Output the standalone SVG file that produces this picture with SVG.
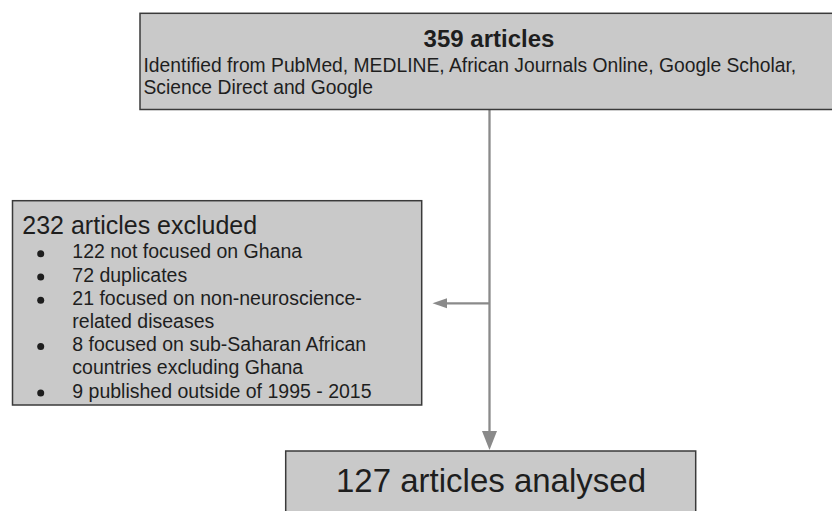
<svg xmlns="http://www.w3.org/2000/svg" width="832" height="511" viewBox="0 0 832 511">
<style>
.box{fill:#c9c9c9;stroke:#3a3a3a;stroke-width:1.5}
text{font-family:"Liberation Sans",Arial,sans-serif;fill:#1e1e1e}
.conn{stroke:#8a8a8a;stroke-width:2.3;fill:none}
.head{fill:#8a8a8a}
.b{fill:#1e1e1e}
</style>
<rect width="832" height="511" fill="#ffffff"/>
<g id="connectors">
<line class="conn" x1="489.5" y1="110" x2="489.5" y2="433"/>
<polygon class="head" points="482,431 497,431 489.5,450"/>
<line class="conn" x1="446" y1="303.3" x2="489.5" y2="303.3"/>
<polygon class="head" points="432.5,303.3 447,298.3 447,308.3"/>
</g>
<g id="node-identified">
<rect class="box" x="140" y="13.3" width="693" height="96.2"/>
<text x="489" y="46.5" font-size="24" font-weight="bold" text-anchor="middle">359 articles</text>
<text x="143.5" y="72.3" font-size="19.3">Identified from PubMed, MEDLINE, African Journals Online, Google Scholar,</text>
<text x="143.5" y="94.3" font-size="19.3">Science Direct and Google</text>
</g>
<g id="node-excluded">
<rect class="box" x="12.5" y="200.7" width="409.2" height="204.3"/>
<text x="22.3" y="234.3" font-size="25">232 articles excluded</text>
<circle class="b" cx="40.7" cy="253.8" r="3.5"/>
<circle class="b" cx="40.7" cy="277" r="3.5"/>
<circle class="b" cx="40.7" cy="300.2" r="3.5"/>
<circle class="b" cx="40.7" cy="346.6" r="3.5"/>
<circle class="b" cx="40.7" cy="393" r="3.5"/>
<text x="72.3" y="258.3" font-size="19.5">122 not focused on Ghana</text>
<text x="72.3" y="281.5" font-size="19.5">72 duplicates</text>
<text x="72.3" y="304.7" font-size="19.5">21 focused on non-neuroscience-</text>
<text x="72.3" y="327.9" font-size="19.5">related diseases</text>
<text x="72.3" y="351.1" font-size="19.5">8 focused on sub-Saharan African</text>
<text x="72.3" y="374.3" font-size="19.5">countries excluding Ghana</text>
<text x="72.3" y="397.5" font-size="19.5">9 published outside of 1995 - 2015</text>
</g>
<g id="node-analysed">
<rect class="box" x="285.7" y="451" width="410" height="75"/>
<text x="491" y="491.7" font-size="33" text-anchor="middle">127 articles analysed</text>
</g>
</svg>
